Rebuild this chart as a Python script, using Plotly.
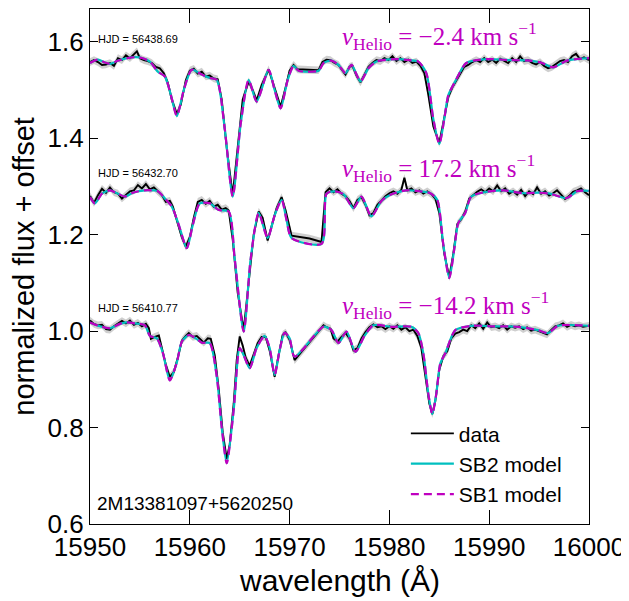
import plotly.graph_objects as go

# ---------------- data ----------------
hjd_labels = ["HJD = 56438.69", "HJD = 56432.70", "HJD = 56410.77"]
vhelio = ["−2.4", "17.2", "−14.2"]
star_name = "2M13381097+5620250"
err = 0.008

# top spectrum (HJD 56438.69)
data1 = [(15950.0, 1.558), (15950.4, 1.562), (15950.8, 1.558), (15951.2, 1.552), (15951.6, 1.553), (15952.0, 1.556),
         (15952.4, 1.550), (15952.8, 1.566), (15953.2, 1.562), (15953.6, 1.572), (15954.0, 1.566), (15954.4, 1.574),
         (15954.7, 1.580), (15955.0, 1.566), (15955.4, 1.562), (15955.8, 1.560), (15956.2, 1.556), (15956.6, 1.548),
         (15957.0, 1.545), (15957.4, 1.535), (15957.8, 1.515), (15958.2, 1.480), (15958.7, 1.450), (15959.1, 1.470),
         (15959.6, 1.520), (15960.0, 1.540), (15960.4, 1.544), (15960.8, 1.534), (15961.2, 1.538), (15961.6, 1.528),
         (15962.0, 1.530), (15962.4, 1.524), (15962.8, 1.522), (15963.2, 1.480), (15963.7, 1.380), (15964.3, 1.282),
         (15964.8, 1.380), (15965.3, 1.480), (15965.9, 1.518), (15966.3, 1.500), (15966.7, 1.478), (15967.2, 1.510),
         (15967.9, 1.543), (15968.4, 1.510), (15969.1, 1.465), (15969.6, 1.505), (15970.0, 1.540), (15970.4, 1.552),
         (15970.8, 1.543), (15972.9, 1.541), (15973.3, 1.558), (15973.7, 1.563), (15974.1, 1.562), (15974.5, 1.556),
         (15974.9, 1.552), (15975.3, 1.540), (15975.6, 1.532), (15976.0, 1.548), (15976.3, 1.550), (15976.7, 1.530),
         (15977.1, 1.516), (15977.5, 1.532), (15977.9, 1.548), (15978.3, 1.556), (15978.7, 1.562), (15979.1, 1.560),
         (15979.5, 1.566), (15979.9, 1.562), (15980.3, 1.570), (15980.7, 1.560), (15981.1, 1.566), (15981.5, 1.558),
         (15981.9, 1.563), (15982.3, 1.556), (15982.7, 1.559), (15983.1, 1.550), (15983.5, 1.535), (15983.9, 1.490),
         (15984.4, 1.425), (15985.0, 1.390), (15985.5, 1.440), (15985.9, 1.485), (15986.3, 1.505), (15986.7, 1.520),
         (15987.1, 1.535), (15987.5, 1.548), (15987.9, 1.552), (15988.3, 1.558), (15988.7, 1.562), (15989.1, 1.558),
         (15989.5, 1.566), (15989.9, 1.558), (15990.3, 1.563), (15990.7, 1.556), (15991.1, 1.565), (15991.5, 1.560),
         (15991.9, 1.556), (15992.3, 1.566), (15992.7, 1.558), (15993.1, 1.570), (15993.5, 1.560), (15993.9, 1.562),
         (15994.3, 1.556), (15994.7, 1.553), (15995.1, 1.558), (15995.5, 1.550), (15995.9, 1.545), (15996.3, 1.548),
         (15996.7, 1.554), (15997.1, 1.560), (15997.5, 1.562), (15997.9, 1.558), (15998.3, 1.570), (15998.7, 1.575),
         (15999.1, 1.564), (15999.5, 1.568), (16000.0, 1.562)]
model1 = [(15950.0, 1.556), (15950.8, 1.563), (15951.5, 1.557), (15952.0, 1.554), (15952.7, 1.560), (15953.3, 1.564),
          (15954.5, 1.568), (15955.3, 1.566), (15956.0, 1.559), (15956.8, 1.538), (15957.5, 1.528), (15958.1, 1.490),
          (15958.7, 1.446), (15959.4, 1.500), (15960.2, 1.542), (15961.2, 1.532), (15962.0, 1.525), (15962.7, 1.521),
          (15963.5, 1.420), (15964.3, 1.279), (15965.1, 1.430), (15965.9, 1.521), (15966.7, 1.476), (15967.9, 1.542),
          (15968.5, 1.500), (15969.1, 1.462), (15969.8, 1.520), (15970.4, 1.550), (15970.9, 1.540), (15972.9, 1.540),
          (15973.4, 1.556), (15974.2, 1.561), (15974.9, 1.552), (15975.6, 1.535), (15976.2, 1.552), (15977.1, 1.518),
          (15977.9, 1.545), (15978.7, 1.559), (15980.7, 1.564), (15982.0, 1.562), (15982.9, 1.559), (15983.7, 1.535),
          (15984.4, 1.440), (15985.0, 1.388), (15985.5, 1.440), (15985.9, 1.489), (15986.6, 1.518), (15987.7, 1.556),
          (15989.7, 1.564), (15992.0, 1.562), (15994.1, 1.561), (15995.3, 1.556), (15996.4, 1.547), (15997.8, 1.561),
          (16000.0, 1.566)]

# middle spectrum (HJD 56432.70)
data2 = [(15950.0, 1.280), (15950.4, 1.266), (15950.8, 1.282), (15951.2, 1.295), (15951.6, 1.287), (15952.0, 1.298),
         (15952.4, 1.288), (15952.8, 1.285), (15953.2, 1.275), (15953.6, 1.282), (15954.0, 1.290), (15954.4, 1.292),
         (15954.8, 1.303), (15955.2, 1.296), (15955.6, 1.305), (15956.0, 1.294), (15956.4, 1.298), (15956.8, 1.290),
         (15957.2, 1.282), (15957.6, 1.268), (15958.0, 1.270), (15958.3, 1.258), (15958.7, 1.230), (15959.2, 1.195),
         (15959.6, 1.175), (15960.0, 1.195), (15960.4, 1.235), (15960.8, 1.268), (15961.2, 1.272), (15961.6, 1.264),
         (15962.0, 1.270), (15962.4, 1.258), (15962.8, 1.262), (15963.2, 1.252), (15963.6, 1.255), (15963.9, 1.250),
         (15964.3, 1.190), (15964.8, 1.080), (15965.4, 1.002), (15965.9, 1.100), (15966.4, 1.200), (15966.9, 1.248),
         (15967.3, 1.235), (15967.8, 1.188), (15968.2, 1.218), (15968.7, 1.255), (15969.2, 1.278), (15969.6, 1.250),
         (15970.2, 1.198), (15971.0, 1.196), (15972.0, 1.192), (15973.2, 1.185), (15973.6, 1.288), (15974.0, 1.296),
         (15974.4, 1.288), (15974.8, 1.294), (15975.2, 1.285), (15975.6, 1.280), (15976.0, 1.270), (15976.4, 1.255),
         (15976.8, 1.272), (15977.2, 1.278), (15977.6, 1.262), (15978.0, 1.240), (15978.4, 1.245), (15978.8, 1.262),
         (15979.2, 1.272), (15979.6, 1.280), (15980.0, 1.286), (15980.4, 1.290), (15980.8, 1.285), (15981.2, 1.293),
         (15981.5, 1.318), (15981.8, 1.292), (15982.2, 1.296), (15982.6, 1.288), (15983.0, 1.292), (15983.4, 1.285),
         (15983.8, 1.290), (15984.2, 1.284), (15984.6, 1.275), (15985.0, 1.245), (15985.5, 1.160), (15986.0, 1.112),
         (15986.4, 1.160), (15986.8, 1.222), (15987.2, 1.232), (15987.6, 1.248), (15988.0, 1.275), (15988.4, 1.282),
         (15988.8, 1.289), (15989.2, 1.294), (15989.6, 1.288), (15990.0, 1.296), (15990.4, 1.290), (15990.8, 1.302),
         (15991.2, 1.290), (15991.6, 1.296), (15992.0, 1.285), (15992.4, 1.290), (15992.8, 1.283), (15993.2, 1.293),
         (15993.6, 1.280), (15994.0, 1.290), (15994.4, 1.284), (15994.8, 1.298), (15995.2, 1.285), (15995.6, 1.290),
         (15996.0, 1.281), (15996.4, 1.286), (15996.8, 1.292), (15997.2, 1.283), (15997.6, 1.274), (15998.0, 1.280),
         (15998.4, 1.289), (15998.8, 1.292), (15999.2, 1.296), (15999.6, 1.288), (16000.0, 1.282)]
model2 = [(15950.0, 1.278), (15950.5, 1.265), (15951.2, 1.285), (15952.0, 1.292), (15952.8, 1.285), (15953.5, 1.279),
          (15954.3, 1.287), (15955.5, 1.292), (15956.8, 1.290), (15957.5, 1.275), (15958.2, 1.258), (15958.9, 1.220),
          (15959.7, 1.172), (15960.3, 1.220), (15961.0, 1.265), (15962.0, 1.265), (15962.9, 1.251), (15963.9, 1.248),
          (15964.5, 1.150), (15965.4, 0.999), (15966.1, 1.150), (15966.9, 1.245), (15967.8, 1.193), (15968.5, 1.240),
          (15969.2, 1.272), (15969.7, 1.230), (15970.2, 1.193), (15973.2, 1.181), (15973.7, 1.285), (15974.5, 1.290),
          (15975.4, 1.284), (15976.4, 1.255), (15977.2, 1.279), (15978.2, 1.238), (15979.2, 1.270), (15980.1, 1.283),
          (15981.7, 1.292), (15983.0, 1.290), (15984.1, 1.286), (15984.8, 1.272), (15985.4, 1.180), (15986.0, 1.110),
          (15986.5, 1.170), (15986.9, 1.224), (15987.6, 1.245), (15988.2, 1.279), (15989.5, 1.288), (15991.4, 1.292),
          (15993.4, 1.286), (15995.0, 1.287), (15996.1, 1.285), (15997.8, 1.276), (15998.8, 1.290), (16000.0, 1.291)]

# bottom spectrum (HJD 56410.77)
data3 = [(15950.0, 1.022), (15950.4, 1.015), (15950.8, 1.012), (15951.2, 1.013), (15951.6, 1.004), (15952.0, 1.003),
         (15952.4, 1.010), (15952.8, 1.016), (15953.2, 1.021), (15953.6, 1.016), (15954.0, 1.022), (15954.4, 1.013),
         (15954.8, 1.017), (15955.2, 1.010), (15955.6, 1.015), (15955.9, 1.006), (15956.1, 0.984), (15956.5, 0.988),
         (15956.9, 0.991), (15957.2, 0.965), (15957.6, 0.930), (15958.0, 0.905), (15958.4, 0.915), (15958.8, 0.945),
         (15959.2, 0.980), (15959.6, 0.990), (15959.9, 0.996), (15960.3, 0.988), (15960.7, 0.990), (15961.1, 0.982),
         (15961.4, 0.976), (15961.8, 0.985), (15962.1, 0.984), (15962.5, 0.950), (15962.9, 0.880), (15963.3, 0.790),
         (15963.7, 0.735), (15964.0, 0.765), (15964.4, 0.850), (15964.7, 0.940), (15965.0, 0.989), (15965.3, 0.970),
         (15965.6, 0.945), (15966.0, 0.928), (15966.4, 0.950), (15966.8, 0.975), (15967.2, 0.988), (15967.6, 0.988),
         (15968.0, 0.960), (15968.5, 0.905), (15968.9, 0.950), (15969.3, 0.992), (15969.6, 0.997), (15970.0, 0.982),
         (15970.5, 0.940), (15973.4, 1.012), (15973.7, 1.008), (15974.1, 1.005), (15974.4, 0.985), (15974.8, 0.978),
         (15975.2, 0.988), (15975.6, 0.996), (15976.0, 0.985), (15976.4, 0.960), (15976.8, 0.965), (15977.2, 0.985),
         (15977.6, 0.998), (15978.0, 1.008), (15978.4, 1.014), (15978.8, 1.008), (15979.2, 1.010), (15979.6, 1.004),
         (15980.0, 1.010), (15980.4, 1.005), (15980.8, 1.012), (15981.2, 1.003), (15981.6, 1.008), (15982.0, 1.000),
         (15982.4, 1.003), (15982.8, 0.990), (15983.2, 0.965), (15983.6, 0.910), (15984.0, 0.850), (15984.3, 0.828),
         (15984.6, 0.855), (15985.0, 0.920), (15985.4, 0.948), (15985.8, 0.958), (15986.2, 0.985), (15986.6, 0.995),
         (15987.0, 0.998), (15987.4, 1.003), (15987.8, 1.000), (15988.2, 1.012), (15988.6, 1.006), (15989.0, 1.016),
         (15989.4, 1.005), (15989.8, 1.018), (15990.2, 1.008), (15990.6, 1.010), (15991.0, 1.006), (15991.4, 1.012),
         (15991.8, 1.003), (15992.2, 1.010), (15992.6, 1.007), (15993.0, 1.010), (15993.4, 1.004), (15993.8, 1.008),
         (15994.2, 1.001), (15994.6, 1.003), (15995.0, 1.000), (15995.4, 0.997), (15995.8, 0.993), (15996.2, 1.002),
         (15996.6, 1.010), (15997.0, 1.012), (15997.4, 1.016), (15997.8, 1.009), (15998.2, 1.013), (15998.6, 1.010),
         (15999.0, 1.012), (15999.4, 1.009), (16000.0, 1.011)]
model3 = [(15950.0, 1.018), (15951.0, 1.010), (15952.0, 1.006), (15953.0, 1.015), (15953.6, 1.018), (15954.5, 1.016),
          (15955.5, 1.012), (15956.0, 0.990), (15956.7, 0.985), (15957.3, 0.955), (15958.0, 0.898), (15958.7, 0.935),
          (15959.2, 0.978), (15959.9, 0.992), (15960.6, 0.985), (15961.2, 0.976), (15962.0, 0.975), (15962.7, 0.906),
          (15963.2, 0.800), (15963.7, 0.726), (15964.4, 0.837), (15965.0, 0.965), (15965.4, 0.950), (15966.0, 0.923),
          (15966.7, 0.965), (15967.5, 0.990), (15968.0, 0.965), (15968.5, 0.909), (15969.0, 0.960), (15969.5, 0.997),
          (15970.0, 0.985), (15970.5, 0.947), (15973.4, 1.009), (15974.2, 1.002), (15974.9, 0.975), (15975.7, 0.999),
          (15976.6, 0.957), (15977.5, 0.990), (15978.4, 1.012), (15980.2, 1.009), (15982.2, 1.009), (15982.9, 0.996),
          (15983.4, 0.954), (15983.9, 0.870), (15984.3, 0.828), (15984.7, 0.870), (15985.1, 0.933), (15985.6, 0.954),
          (15986.6, 1.002), (15988.2, 1.011), (15990.5, 1.010), (15992.9, 1.009), (15994.9, 1.002), (15995.9, 0.996),
          (15996.9, 1.011), (16000.0, 1.011)]

x_ticks = [15950, 15960, 15970, 15980, 15990, 16000]
y_ticks = [0.6, 0.8, 1.0, 1.2, 1.4, 1.6]

# positions of the text labels (data coordinates)
hjd_y = [1.606, 1.328, 1.048]
vel_y = [1.612, 1.339, 1.054]

# ---------------- figure ----------------
BLACK = "#000000"
CYAN = "#00bfbf"
MAGENTA = "#bf00bf"
SANS = "Liberation Sans, Arial, sans-serif"
SERIF = "Liberation Serif, DejaVu Serif, serif"

fig = go.Figure()
spectra = [(data1, model1), (data2, model2), (data3, model3)]
for i, (dat, mod) in enumerate(spectra):
    dw = [p[0] for p in dat]
    df = [p[1] for p in dat]
    mw = [p[0] for p in mod]
    mf = [p[1] for p in mod]
    fig.add_trace(go.Scatter(x=dw, y=[v + err for v in df], mode="lines",
                             line=dict(width=0, color="rgba(0,0,0,0)"), showlegend=False, hoverinfo="skip"))
    fig.add_trace(go.Scatter(x=dw, y=[v - err for v in df], mode="lines", fill="tonexty",
                             fillcolor="rgba(160,160,160,0.5)",
                             line=dict(width=0, color="rgba(0,0,0,0)"), showlegend=False, hoverinfo="skip"))
    fig.add_trace(go.Scatter(x=dw, y=df, mode="lines", name="data",
                             line=dict(color=BLACK, width=1.9), showlegend=(i == 0)))
    fig.add_trace(go.Scatter(x=mw, y=mf, mode="lines", name="SB2 model",
                             line=dict(color=CYAN, width=2.2, shape="spline", smoothing=0.7),
                             showlegend=(i == 0)))
    fig.add_trace(go.Scatter(x=mw, y=mf, mode="lines", name="SB1 model",
                             line=dict(color=MAGENTA, width=2.2, dash="8px,5px", shape="spline", smoothing=0.7),
                             showlegend=(i == 0)))

annotations = []
for i in range(3):
    annotations.append(dict(x=15950.65, y=hjd_y[i], xref="x", yref="y", text=hjd_labels[i],
                            showarrow=False, xanchor="left", yanchor="middle",
                            font=dict(family=SANS, size=11, color="black")))
    annotations.append(dict(x=15975.0, y=vel_y[i], xref="x", yref="y",
                            text="<i>v</i><sub>Helio</sub> = " + vhelio[i] + " km s<sup>−1</sup>",
                            showarrow=False, xanchor="left", yanchor="middle",
                            font=dict(family=SERIF, size=25, color=MAGENTA)))
annotations.append(dict(x=15950.5, y=0.642, xref="x", yref="y", text=star_name, showarrow=False,
                        xanchor="left", yanchor="middle", font=dict(family=SANS, size=19, color="black")))
annotations.append(dict(x=-0.134, y=0.5, xref="paper", yref="paper", text="normalized flux + offset",
                        textangle=-90, showarrow=False, xanchor="center", yanchor="middle",
                        font=dict(family=SANS, size=29, color="black")))
annotations.append(dict(x=0.5, y=-0.109, xref="paper", yref="paper", text="wavelength (Å)",
                        showarrow=False, xanchor="center", yanchor="middle",
                        font=dict(family=SANS, size=30, color="black")))

# the page body adds an 8 px margin, so the figure is 8 px smaller and margins shifted
fig.update_layout(
    width=621, height=593,
    margin=dict(l=82, r=40, t=1, b=77, autoexpand=False),
    paper_bgcolor="white", plot_bgcolor="white",
    showlegend=True,
    legend=dict(x=0.633, y=0.215, xanchor="left", yanchor="top", bgcolor="rgba(0,0,0,0)",
                traceorder="normal",
                font=dict(family=SANS, size=21, color="black"), itemwidth=43, tracegroupgap=0),
    annotations=annotations,
)
fig.update_xaxes(range=[15950, 16000], tickvals=x_ticks, ticktext=[str(t) for t in x_ticks],
                 ticks="inside", ticklen=14, tickwidth=1, tickcolor="black",
                 showline=True, linecolor="black", linewidth=1.3, mirror="ticks",
                 showgrid=False, zeroline=False, automargin=False,
                 tickfont=dict(family=SANS, size=26, color="black"))
fig.update_yaxes(range=[0.6, 1.668], tickvals=y_ticks, ticktext=["%.1f" % t for t in y_ticks],
                 ticks="inside", ticklen=8, tickwidth=1, tickcolor="black",
                 showline=True, linecolor="black", linewidth=1.3, mirror="ticks",
                 showgrid=False, zeroline=False, automargin=False,
                 tickfont=dict(family=SANS, size=26, color="black"))

fig.write_html("out.html")
